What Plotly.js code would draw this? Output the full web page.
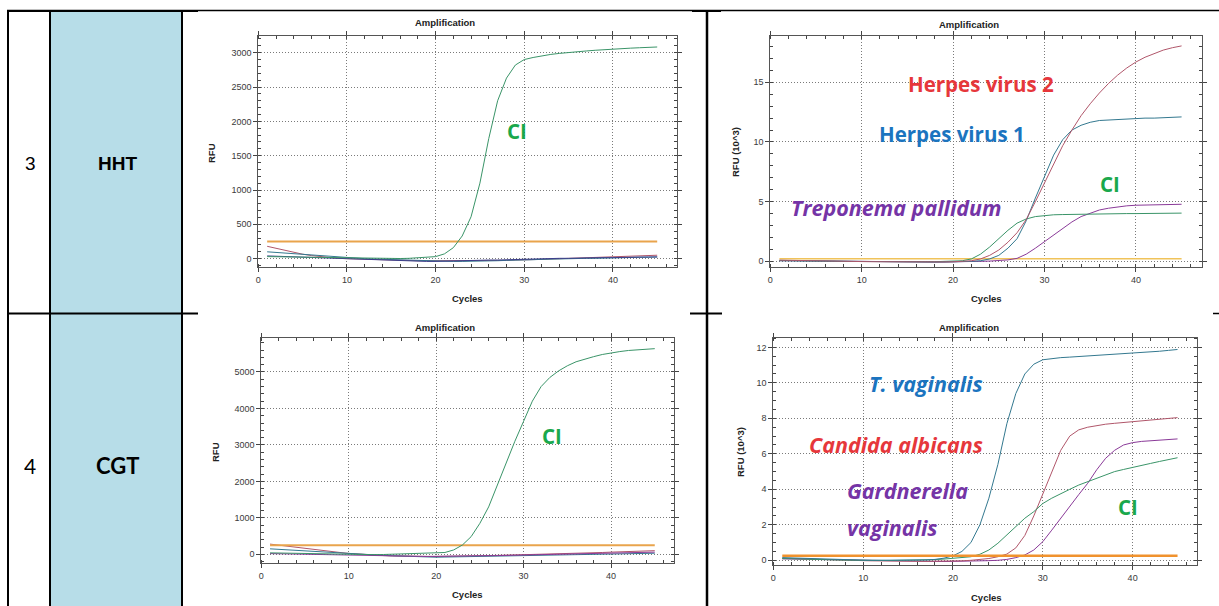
<!DOCTYPE html>
<html>
<head>
<meta charset="utf-8">
<script src="https://cdn.plot.ly/plotly-3.0.1.min.js"></script>
<style>html,body{margin:0;padding:0;background:#fff;}#chart{width:1219px;height:606px;}</style>
</head>
<body>
<div id="chart"></div>
<script>
// ---------- DATA ----------
const cycles = [1,2,3,4,5,6,7,8,9,10,11,12,13,14,15,16,17,18,19,20,21,22,23,24,25,26,27,28,29,30,31,32,33,34,35,36,37,38,39,40,41,42,43,44,45];

// Row 3 (HHT) - left chart, RFU
const hhtCI = [30,28,25,22,20,18,15,12,10,8, 5,3,2,0,0,2,5,10,15,30, 70,160,330,610,1100,1750,2300,2630,2820,2900, 2930,2955,2975,2990,3005,3015,3025,3035,3045,3053, 3060,3066,3072,3078,3083];
const hhtBaseA = [180,150,120,90,65,45,28,15,5,0, -5,-10,-15,-20,-25,-30,-30,-30,-30,-30, -30,-35,-35,-35,-30,-30,-25,-25,-20,-20, -15,-10,-5,0,0,5,10,10,15,20, 25,30,35,40,50];
const hhtBaseB = [100,90,80,70,60,50,40,30,20,12, 5,0,-5,-10,-15,-20,-20,-25,-30,-35, -40,-40,-40,-40,-35,-35,-30,-25,-25,-20, -15,-10,-5,-5,0,0,5,5,10,10, 15,15,20,20,25];
const hhtBaseC = [40,35,30,25,20,15,10,5,0,-5, -10,-15,-20,-25,-30,-35,-35,-40,-40,-40, -35,-35,-30,-30,-25,-20,-20,-15,-10,-5, -5,0,0,5,5,10,10,10,15,15, 20,20,20,25,25];
const hhtThresholdLeft = 250;

// Row 3 (HHT) - right chart, RFU (10^3)
const hsv2 = [0.10,0.08,0.06,0.05,0.04,0.03,0.02,0.01,0.00,-0.02, -0.03,-0.04,-0.05,-0.05,-0.06,-0.06,-0.06,-0.05,-0.05,-0.04, -0.02,0.05,0.20,0.50,0.95,1.60,2.40,3.50,5.00,6.60, 8.20,9.70,11.00,12.20,13.20,14.10,14.90,15.60,16.20,16.70, 17.10,17.40,17.70,17.90,18.05];
const hsv1 = [0.05,0.04,0.03,0.02,0.01,0.00,-0.01,-0.02,-0.03,-0.04, -0.05,-0.05,-0.06,-0.06,-0.07,-0.07,-0.07,-0.06,-0.06,-0.05, -0.04,0.00,0.05,0.20,0.50,1.10,1.90,3.40,5.30,7.10, 8.90,10.20,11.00,11.40,11.65,11.80,11.85,11.90,11.95,11.95, 12.00,12.00,12.05,12.05,12.10];
const hhtCIRight = [0.08,0.06,0.05,0.04,0.03,0.02,0.01,0.00,-0.01,-0.02, -0.03,-0.03,-0.04,-0.04,-0.04,-0.04,-0.03,-0.03,-0.02,-0.01, 0.05,0.20,0.60,1.20,1.90,2.60,3.20,3.55,3.75,3.85, 3.90,3.92,3.94,3.95,3.96,3.97,3.98,3.99,4.00,4.00, 4.01,4.02,4.03,4.03,4.04];
const treponema = [0.06,0.05,0.04,0.03,0.02,0.01,0.00,-0.01,-0.02,-0.03, -0.04,-0.05,-0.05,-0.06,-0.06,-0.06,-0.06,-0.06,-0.05,-0.05, -0.04,-0.03,0.00,0.02,0.05,0.12,0.25,0.60,1.10,1.65, 2.25,2.80,3.30,3.75,4.05,4.30,4.45,4.58,4.65,4.70, 4.72,4.74,4.76,4.77,4.78];
const hhtThresholdRight = 0.22;

// Row 4 (CGT) - left chart, RFU
const cgtCI = [40,35,30,25,20,15,10,5,0,-5, -10,-10,-10,-5,0,5,10,15,20,25, 50,120,255,485,850,1300,1900,2550,3100,3650, 4200,4600,4850,5030,5170,5280,5360,5420,5480,5530, 5560,5590,5610,5625,5640];
const cgtBaseA = [280,250,215,185,155,125,100,75,50,25, 5,-10,-25,-35,-45,-50,-55,-60,-60,-60, -55,-55,-50,-45,-40,-35,-30,-25,-20,-15, -10,-5,0,5,10,20,30,40,50,60, 70,80,85,90,100];
const cgtBaseB = [150,135,120,105,90,75,60,45,30,15, 0,-10,-20,-30,-40,-50,-60,-70,-80,-80, -75,-70,-65,-60,-55,-50,-45,-40,-35,-30, -25,-20,-15,-10,-5,0,5,10,15,20, 20,25,25,30,30];
const cgtBaseC = [20,15,10,5,0,-5,-10,-15,-20,-25, -30,-35,-40,-45,-50,-55,-55,-60,-60,-55, -55,-50,-50,-45,-45,-40,-35,-30,-25,-20, -15,-10,-5,0,5,10,15,20,25,30, 35,40,45,50,60];
const cgtThresholdLeft = 250;

// Row 4 (CGT) - right chart, RFU (10^3)
const tVaginalis = [0.15,0.13,0.11,0.09,0.07,0.05,0.04,0.03,0.02,0.01, 0.00,0.00,-0.01,-0.01,-0.01,0.00,0.02,0.05,0.12,0.25, 0.50,1.00,2.00,3.50,5.40,7.70,9.40,10.50,11.05,11.30, 11.38,11.42,11.45,11.48,11.50,11.53,11.56,11.60,11.63,11.66, 11.70,11.74,11.78,11.83,11.88];
const candida = [0.12,0.10,0.08,0.06,0.04,0.02,0.01,0.00,-0.01,-0.02, -0.03,-0.04,-0.05,-0.05,-0.06,-0.06,-0.06,-0.05,-0.05,-0.04, -0.03,0.00,0.03,0.10,0.20,0.35,0.70,1.40,2.50,3.70, 5.00,6.20,7.00,7.35,7.50,7.60,7.67,7.72,7.77,7.81, 7.86,7.90,7.95,8.00,8.04];
const gardnerella = [0.08,0.07,0.06,0.05,0.04,0.03,0.02,0.01,0.00,-0.01, -0.02,-0.03,-0.04,-0.05,-0.06,-0.07,-0.07,-0.07,-0.07,-0.06, -0.06,-0.05,-0.04,-0.02,0.00,0.05,0.15,0.30,0.58,1.05, 1.70,2.37,3.10,3.70,4.34,5.10,5.75,6.20,6.50,6.63, 6.70,6.74,6.78,6.81,6.84];
const cgtCIRight = [0.10,0.08,0.06,0.05,0.04,0.03,0.02,0.01,0.00,0.00, -0.01,-0.01,-0.01,0.00,0.00,0.01,0.02,0.04,0.07,0.10, 0.14,0.20,0.34,0.58,0.96,1.43,1.90,2.37,2.74,3.20, 3.50,3.77,4.00,4.24,4.44,4.62,4.80,5.00,5.12,5.22, 5.34,5.46,5.57,5.68,5.78];
const cgtThresholdRight = 0.26;

const rowNumbers = ['3', '4'];
const rowNames = ['HHT', 'CGT'];
const chartTitle = 'Amplification';
const xTitle = 'Cycles';
const yTitleRFU = 'RFU';
const yTitleRFUk = 'RFU (10^3)';

// ---------- STYLE ----------
const W = 1219, H = 606;
const px = v => v / W;
const py = v => 1 - v / H;

const C_GREEN = '#3a9468', C_RED = '#b0566a', C_BLUE = '#33788f', C_PURPLE = '#8a3a98', C_NAVY = '#3b3f8c';
const TXT_GREEN = '#1aa84c', TXT_RED = '#e6373b', TXT_BLUE = '#1b74bf', TXT_PURPLE = '#7534a6';
const tickFont = {family: 'Liberation Sans, Arial, sans-serif', size: 9, color: '#3a3a3a'};
const axTitleFont = {family: 'Liberation Sans, Arial, sans-serif', size: 9.5, color: '#222', weight: 700};

function line(x, y, color, name, xa, ya, width) {
  return {x: x, y: y, type: 'scatter', mode: 'lines', name: name, xaxis: xa, yaxis: ya,
          line: {color: color, width: width || 1}, showlegend: false, hoverinfo: 'skip'};
}
function thresh(t, color, width, xa, ya) {
  return line([cycles[0], cycles[cycles.length - 1]], [t, t], color, 'Threshold', xa, ya, width);
}

const GRID = {showgrid: true, gridcolor: '#7a7a7a', griddash: '1px,2px', gridwidth: 1, zeroline: false};
function xAxis(dom, anchor) {
  return Object.assign({domain: dom, anchor: anchor, range: [0, 47.2], dtick: 10, tick0: 0,
    showline: true, linecolor: '#555', linewidth: 1, mirror: 'allticks',
    ticks: 'outside', ticklen: 4, tickcolor: '#444', tickfont: tickFont,
    minor: {dtick: 2, ticks: 'inside', ticklen: 3, tickcolor: '#444', showgrid: false},
    fixedrange: true}, GRID);
}
function yAxis(dom, anchor, range, dt, mdt) {
  return Object.assign({domain: dom, anchor: anchor, range: range, dtick: dt, tick0: 0,
    showline: true, linecolor: '#555', linewidth: 1, mirror: 'allticks',
    ticks: 'outside', ticklen: 4, tickcolor: '#444', tickfont: tickFont,
    minor: {dtick: mdt, ticks: 'inside', ticklen: 3, tickcolor: '#444', showgrid: false},
    fixedrange: true}, GRID);
}

const traces = [
  // chart 1
  line(cycles, hhtBaseA, C_RED, 'Baseline', 'x', 'y'),
  line(cycles, hhtBaseB, C_BLUE, 'Baseline', 'x', 'y'),
  line(cycles, hhtBaseC, C_NAVY, 'Baseline', 'x', 'y'),
  thresh(hhtThresholdLeft, '#e9a44c', 2, 'x', 'y'),
  line(cycles, hhtCI, C_GREEN, 'CI', 'x', 'y'),
  // chart 2
  thresh(hhtThresholdRight, '#f0c35a', 1.6, 'x2', 'y2'),
  line(cycles, treponema, C_PURPLE, 'Treponema pallidum', 'x2', 'y2'),
  line(cycles, hhtCIRight, C_GREEN, 'CI', 'x2', 'y2'),
  line(cycles, hsv1, C_BLUE, 'Herpes virus 1', 'x2', 'y2'),
  line(cycles, hsv2, C_RED, 'Herpes virus 2', 'x2', 'y2'),
  // chart 3
  line(cycles, cgtBaseA, C_RED, 'Baseline', 'x3', 'y3'),
  line(cycles, cgtBaseB, C_BLUE, 'Baseline', 'x3', 'y3'),
  line(cycles, cgtBaseC, C_PURPLE, 'Baseline', 'x3', 'y3'),
  thresh(cgtThresholdLeft, '#e9a44c', 2, 'x3', 'y3'),
  line(cycles, cgtCI, C_GREEN, 'CI', 'x3', 'y3'),
  // chart 4
  line(cycles, gardnerella, C_PURPLE, 'Gardnerella vaginalis', 'x4', 'y4'),
  line(cycles, candida, C_RED, 'Candida albicans', 'x4', 'y4'),
  line(cycles, cgtCIRight, C_GREEN, 'CI', 'x4', 'y4'),
  line(cycles, tVaginalis, C_BLUE, 'T. vaginalis', 'x4', 'y4'),
  thresh(cgtThresholdRight, '#f0922e', 2.5, 'x4', 'y4')
];

// ---------- LAYOUT ----------
const dom1x = [px(258.3), px(676.7)], dom1y = [py(266.7), py(36)];
const dom2x = [px(770.3), px(1201.7)], dom2y = [py(267.3), py(36)];
const dom3x = [px(261.3), px(674)], dom3y = [py(562.7), py(338.3)];
const dom4x = [px(773.3), px(1197.3)], dom4y = [py(565), py(338.3)];

function hline(x0, x1, y, w) {
  return {type: 'line', xref: 'paper', yref: 'paper', x0: px(x0), x1: px(x1), y0: py(y), y1: py(y), line: {color: '#000', width: w}, layer: 'above'};
}
function vline(x, y0, y1, w) {
  return {type: 'line', xref: 'paper', yref: 'paper', x0: px(x), x1: px(x), y0: py(y0), y1: py(y1), line: {color: '#000', width: w}, layer: 'above'};
}

const shapes = [
  {type: 'rect', xref: 'paper', yref: 'paper', x0: px(50), x1: px(182), y0: py(606), y1: py(11), fillcolor: '#b7dde8', line: {width: 0}, layer: 'below'},
  hline(7, 1219, 10.5, 1.5),
  hline(7, 198, 11, 2),
  hline(692, 721, 11, 2),
  vline(8, 10, 606, 2),
  vline(50, 10, 606, 2),
  vline(182, 10, 606, 2),
  vline(707, 10, 606, 2.5),
  hline(7, 198, 313.5, 2),
  hline(690, 722, 313.5, 2),
  hline(1213, 1219, 313.5, 1.5)
];

function ann(text, x, y, font, extra) {
  return Object.assign({text: text, xref: 'paper', yref: 'paper', x: px(x), y: py(y), xanchor: 'center', yanchor: 'middle', showarrow: false, font: font}, extra || {});
}
const titleFont = {family: 'Liberation Sans, Arial, sans-serif', size: 9.5, color: '#222', weight: 700};
const lblFont = (c, ital) => ({family: 'Open Sans, sans-serif', size: ital ? 21.5 : 20.5, color: c, weight: 700, style: ital ? 'italic' : 'normal'});

const annotations = [
  ann(rowNumbers[0], 30, 164, {family: 'Liberation Sans, Arial, sans-serif', size: 19, color: '#000'}),
  ann(rowNames[0], 117, 164, {family: 'Liberation Sans, Arial, sans-serif', size: 19, color: '#000', weight: 700}),
  ann(rowNumbers[1], 30, 465, {family: 'Lato, sans-serif', size: 21, color: '#000'}),
  ann(rowNames[1], 117, 465, {family: 'Lato, sans-serif', size: 22, color: '#000', weight: 700}),
  // chart titles
  ann(chartTitle, 445, 23, titleFont),
  ann(chartTitle, 969, 24, titleFont),
  ann(chartTitle, 445, 327, titleFont),
  ann(chartTitle, 969, 327, titleFont),
  // axis titles
  ann(xTitle, 467, 298, axTitleFont),
  ann(xTitle, 986, 298, axTitleFont),
  ann(xTitle, 467, 594, axTitleFont),
  ann(xTitle, 986, 597, axTitleFont),
  ann(yTitleRFU, 211, 153, axTitleFont, {textangle: -90}),
  ann(yTitleRFUk, 736, 152, axTitleFont, {textangle: -90}),
  ann(yTitleRFU, 215, 452, axTitleFont, {textangle: -90}),
  ann(yTitleRFUk, 740, 452, axTitleFont, {textangle: -90}),
  // labels
  ann('CI', 517, 131, lblFont(TXT_GREEN)),
  ann('Herpes virus 2', 981, 84, lblFont(TXT_RED)),
  ann('Herpes virus 1', 952, 134, lblFont(TXT_BLUE)),
  ann('CI', 1110, 184, lblFont(TXT_GREEN)),
  ann('Treponema pallidum', 897, 207, lblFont(TXT_PURPLE, true)),
  ann('CI', 552, 436, lblFont(TXT_GREEN)),
  ann('T. vaginalis', 926, 383, lblFont(TXT_BLUE, true)),
  ann('Candida albicans', 896, 445, lblFont(TXT_RED, true)),
  ann('Gardnerella', 907, 490, lblFont(TXT_PURPLE, true)),
  ann('vaginalis', 892, 527, lblFont(TXT_PURPLE, true)),
  ann('CI', 1128, 507, lblFont(TXT_GREEN))
];

const layout = {
  width: W, height: H,
  margin: {l: 0, r: 0, t: 0, b: 0, pad: 0},
  paper_bgcolor: '#fff', plot_bgcolor: '#fff',
  showlegend: false,
  xaxis: xAxis(dom1x, 'y'),
  yaxis: yAxis(dom1y, 'x', [-117, 3243], 500, 100),
  xaxis2: xAxis(dom2x, 'y2'),
  yaxis2: yAxis(dom2y, 'x2', [-0.5, 18.88], 5, 1),
  xaxis3: xAxis(dom3x, 'y3'),
  yaxis3: yAxis(dom3y, 'x3', [-230, 5924], 1000, 200),
  xaxis4: xAxis(dom4x, 'y4'),
  yaxis4: yAxis(dom4y, 'x4', [-0.265, 12.51], 2, 0.5),
  shapes: shapes,
  annotations: annotations
};

Plotly.newPlot('chart', traces, layout, {staticPlot: true, displayModeBar: false});
</script>
</body>
</html>
